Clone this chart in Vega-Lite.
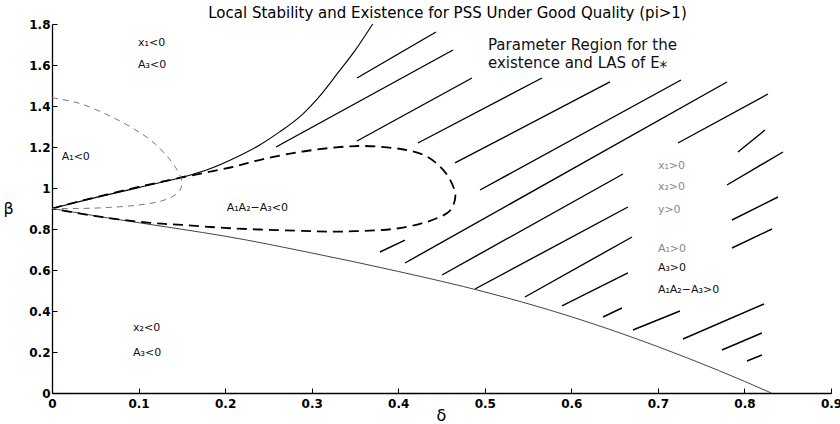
{
  "$schema": "https://vega.github.io/schema/vega-lite/v6.json",
  "width": 779,
  "height": 369,
  "autosize": {"type": "none"},
  "padding": {"left": 52, "top": 24, "right": 9, "bottom": 31},
  "background": "white",
  "config": {
    "view": {"stroke": null},
    "font": "DejaVu Sans",
    "axis": {
      "grid": false,
      "domainColor": "black",
      "domainWidth": 1.3,
      "tickColor": "black",
      "tickWidth": 1,
      "tickSize": -5,
      "labelFont": "DejaVu Sans",
      "labelFontSize": 12,
      "labelFontWeight": "bold",
      "labelColor": "black",
      "labelFlush": false,
      "labelOverlap": false,
      "titleFont": "DejaVu Sans",
      "titleFontSize": 16,
      "titleFontWeight": "normal",
      "titleColor": "black"
    }
  },
  "title": {
    "text": "Local Stability and Existence for PSS Under Good Quality (pi>1)",
    "font": "DejaVu Sans",
    "fontSize": 15,
    "fontWeight": "normal",
    "color": "black",
    "anchor": "middle",
    "frame": "group",
    "offset": 4,
    "dx": 6,
    "dy": 7
  },
  "datasets": {
    "curves": [
      {"curve": "upper", "i": 0, "d": 0, "b": 0.9},
      {"curve": "upper", "i": 1, "d": 0.05, "b": 0.953},
      {"curve": "upper", "i": 2, "d": 0.1, "b": 1.002},
      {"curve": "upper", "i": 3, "d": 0.15, "b": 1.052},
      {"curve": "upper", "i": 4, "d": 0.18, "b": 1.09},
      {"curve": "upper", "i": 5, "d": 0.213, "b": 1.15},
      {"curve": "upper", "i": 6, "d": 0.24, "b": 1.21},
      {"curve": "upper", "i": 7, "d": 0.2634, "b": 1.275},
      {"curve": "upper", "i": 8, "d": 0.29, "b": 1.362},
      {"curve": "upper", "i": 9, "d": 0.31, "b": 1.452},
      {"curve": "upper", "i": 10, "d": 0.33, "b": 1.56},
      {"curve": "upper", "i": 11, "d": 0.35, "b": 1.67},
      {"curve": "upper", "i": 12, "d": 0.3705, "b": 1.8},
      {"curve": "lower", "i": 0, "d": 0, "b": 0.9},
      {"curve": "lower", "i": 1, "d": 0.063, "b": 0.855},
      {"curve": "lower", "i": 2, "d": 0.148, "b": 0.8},
      {"curve": "lower", "i": 3, "d": 0.2, "b": 0.765},
      {"curve": "lower", "i": 4, "d": 0.3, "b": 0.683},
      {"curve": "lower", "i": 5, "d": 0.4, "b": 0.593},
      {"curve": "lower", "i": 6, "d": 0.5, "b": 0.493},
      {"curve": "lower", "i": 7, "d": 0.6, "b": 0.372},
      {"curve": "lower", "i": 8, "d": 0.7, "b": 0.226},
      {"curve": "lower", "i": 9, "d": 0.77, "b": 0.11},
      {"curve": "lower", "i": 10, "d": 0.8, "b": 0.057},
      {"curve": "lower", "i": 11, "d": 0.831, "b": 0},
      {"curve": "loop", "i": 0, "d": 0, "b": 0.9},
      {"curve": "loop", "i": 1, "d": 0.03, "b": 0.933},
      {"curve": "loop", "i": 2, "d": 0.063, "b": 0.968},
      {"curve": "loop", "i": 3, "d": 0.1, "b": 1.005},
      {"curve": "loop", "i": 4, "d": 0.148, "b": 1.05},
      {"curve": "loop", "i": 5, "d": 0.206, "b": 1.1},
      {"curve": "loop", "i": 6, "d": 0.243, "b": 1.14},
      {"curve": "loop", "i": 7, "d": 0.29, "b": 1.178},
      {"curve": "loop", "i": 8, "d": 0.333, "b": 1.2},
      {"curve": "loop", "i": 9, "d": 0.36, "b": 1.205},
      {"curve": "loop", "i": 10, "d": 0.387, "b": 1.198},
      {"curve": "loop", "i": 11, "d": 0.41, "b": 1.185},
      {"curve": "loop", "i": 12, "d": 0.43, "b": 1.16},
      {"curve": "loop", "i": 13, "d": 0.447, "b": 1.11},
      {"curve": "loop", "i": 14, "d": 0.46, "b": 1.04},
      {"curve": "loop", "i": 15, "d": 0.466, "b": 0.96},
      {"curve": "loop", "i": 16, "d": 0.46, "b": 0.89},
      {"curve": "loop", "i": 17, "d": 0.446, "b": 0.855},
      {"curve": "loop", "i": 18, "d": 0.425, "b": 0.825},
      {"curve": "loop", "i": 19, "d": 0.394, "b": 0.8},
      {"curve": "loop", "i": 20, "d": 0.36, "b": 0.791},
      {"curve": "loop", "i": 21, "d": 0.325, "b": 0.787},
      {"curve": "loop", "i": 22, "d": 0.28, "b": 0.792},
      {"curve": "loop", "i": 23, "d": 0.21, "b": 0.803},
      {"curve": "loop", "i": 24, "d": 0.15, "b": 0.82},
      {"curve": "loop", "i": 25, "d": 0.113, "b": 0.83},
      {"curve": "loop", "i": 26, "d": 0.055, "b": 0.86},
      {"curve": "loop", "i": 27, "d": 0, "b": 0.9},
      {"curve": "a1", "i": 0, "d": 0, "b": 1.44},
      {"curve": "a1", "i": 1, "d": 0.03, "b": 1.415},
      {"curve": "a1", "i": 2, "d": 0.06, "b": 1.365},
      {"curve": "a1", "i": 3, "d": 0.09, "b": 1.3},
      {"curve": "a1", "i": 4, "d": 0.115, "b": 1.23},
      {"curve": "a1", "i": 5, "d": 0.133, "b": 1.155},
      {"curve": "a1", "i": 6, "d": 0.145, "b": 1.085},
      {"curve": "a1", "i": 7, "d": 0.15, "b": 1.03},
      {"curve": "a1", "i": 8, "d": 0.148, "b": 0.99},
      {"curve": "a1", "i": 9, "d": 0.14, "b": 0.96},
      {"curve": "a1", "i": 10, "d": 0.125, "b": 0.935},
      {"curve": "a1", "i": 11, "d": 0.1, "b": 0.917},
      {"curve": "a1", "i": 12, "d": 0.065, "b": 0.905},
      {"curve": "a1", "i": 13, "d": 0.03, "b": 0.9},
      {"curve": "a1", "i": 14, "d": 0, "b": 0.9}
    ],
    "hatch": [
      {"d": 0.3524, "b": 1.5366, "d2": 0.4436, "b2": 1.761},
      {"d": 0.2588, "b": 1.2, "d2": 0.4633, "b2": 1.6732},
      {"d": 0.3524, "b": 1.2293, "d2": 0.4852, "b2": 1.5366},
      {"d": 0.4228, "b": 1.2195, "d2": 0.5661, "b2": 1.5366},
      {"d": 0.4656, "b": 1.122, "d2": 0.6446, "b2": 1.5171},
      {"d": 0.4945, "b": 0.9902, "d2": 0.7267, "b2": 1.5268},
      {"d": 0.4078, "b": 0.6341, "d2": 0.7798, "b2": 1.5171},
      {"d": 0.3789, "b": 0.6878, "d2": 0.4078, "b2": 0.7463},
      {"d": 0.4506, "b": 0.5756, "d2": 0.6597, "b2": 1.0683},
      {"d": 0.4887, "b": 0.5073, "d2": 0.6654, "b2": 0.9073},
      {"d": 0.5464, "b": 0.4683, "d2": 0.6701, "b2": 0.761},
      {"d": 0.5892, "b": 0.4244, "d2": 0.6654, "b2": 0.5854},
      {"d": 0.6366, "b": 0.3707, "d2": 0.6585, "b2": 0.4146},
      {"d": 0.6712, "b": 0.3073, "d2": 0.7255, "b2": 0.4},
      {"d": 0.729, "b": 0.2634, "d2": 0.8226, "b2": 0.4341},
      {"d": 0.774, "b": 0.2098, "d2": 0.8202, "b2": 0.2927},
      {"d": 0.8029, "b": 0.1561, "d2": 0.8202, "b2": 0.1854},
      {"d": 0.7856, "b": 0.7073, "d2": 0.8318, "b2": 0.8},
      {"d": 0.7232, "b": 1.2195, "d2": 0.8272, "b2": 1.4585},
      {"d": 0.7925, "b": 1.1756, "d2": 0.8237, "b2": 1.2829},
      {"d": 0.7798, "b": 1.0146, "d2": 0.8445, "b2": 1.1756},
      {"d": 0.7856, "b": 0.8439, "d2": 0.8387, "b2": 0.9561}
    ],
    "labelsDark": [
      {"d": 0.0994, "b": 1.707, "text": "x₁<0"},
      {"d": 0.0994, "b": 1.6, "text": "A₃<0"},
      {"d": 0.0112, "b": 1.151, "text": "A₁<0"},
      {"d": 0.2018, "b": 0.902, "text": "A₁A₂−A₃<0"},
      {"d": 0.0936, "b": 0.317, "text": "x₂<0"},
      {"d": 0.0936, "b": 0.195, "text": "A₃<0"},
      {"d": 0.7, "b": 0.61, "text": "A₃>0"},
      {"d": 0.7, "b": 0.502, "text": "A₁A₂−A₃>0"}
    ],
    "labelsFaint": [
      {"d": 0.7, "b": 1.107, "text": "x₁>0"},
      {"d": 0.7, "b": 1.005, "text": "x₂>0"},
      {"d": 0.7, "b": 0.893, "text": "y>0"},
      {"d": 0.7, "b": 0.702, "text": "A₁>0"}
    ],
    "notes": [
      {"d": 0.5037, "b": 1.698, "text": "Parameter Region for the"},
      {"d": 0.5037, "b": 1.61, "text": "existence and LAS of E⁎"}
    ],
    "boundary": [
      {"d": 0.863}
    ]
  },
  "encoding": {
    "x": {
      "field": "d",
      "type": "quantitative",
      "scale": {"domain": [0, 0.9], "nice": false, "zero": false},
      "axis": {
        "values": [0, 0.1, 0.2, 0.3, 0.4, 0.5, 0.6, 0.7, 0.8, 0.9],
        "format": "~g",
        "labelPadding": 10,
        "title": "δ",
        "titleX": 389,
        "titleY": 22,
        "titleAlign": "center",
        "titleBaseline": "middle"
      }
    },
    "y": {
      "field": "b",
      "type": "quantitative",
      "scale": {"domain": [0, 1.8], "nice": false},
      "axis": {
        "values": [0, 0.2, 0.4, 0.6, 0.8, 1, 1.2, 1.4, 1.6, 1.8],
        "format": "~g",
        "labelPadding": 7,
        "title": "β",
        "titleAngle": 0,
        "titleX": -44,
        "titleY": 184,
        "titleAlign": "center",
        "titleBaseline": "middle"
      }
    }
  },
  "layer": [
    {
      "data": {"name": "hatch"},
      "mark": {"type": "rule", "color": "black", "strokeWidth": 1.4},
      "encoding": {
        "x2": {"field": "d2"},
        "y2": {"field": "b2"}
      }
    },
    {
      "data": {"name": "curves"},
      "transform": [{"filter": "datum.curve === 'upper'"}],
      "mark": {"type": "line", "color": "black", "strokeWidth": 1.1, "interpolate": "monotone"},
      "encoding": {"order": {"field": "i"}}
    },
    {
      "data": {"name": "curves"},
      "transform": [{"filter": "datum.curve === 'lower'"}],
      "mark": {"type": "line", "color": "#444", "strokeWidth": 1, "interpolate": "monotone"},
      "encoding": {"order": {"field": "i"}}
    },
    {
      "data": {"name": "curves"},
      "transform": [{"filter": "datum.curve === 'loop'"}],
      "mark": {"type": "line", "color": "black", "strokeWidth": 1.8, "strokeDash": [10, 6], "interpolate": "catmull-rom"},
      "encoding": {"order": {"field": "i"}}
    },
    {
      "data": {"name": "curves"},
      "transform": [{"filter": "datum.curve === 'a1'"}],
      "mark": {"type": "line", "color": "#777", "strokeWidth": 1, "strokeDash": [6, 5], "interpolate": "catmull-rom"},
      "encoding": {"order": {"field": "i"}}
    },
    {
      "data": {"name": "boundary"},
      "mark": {"type": "rule", "color": "#444", "strokeWidth": 1.5, "strokeDash": [6, 3]},
      "encoding": {
        "y": {"datum": 0, "type": "quantitative"},
        "y2": {"datum": 1.8}
      }
    },
    {
      "data": {"name": "labelsDark"},
      "mark": {"type": "text", "align": "left", "baseline": "middle", "font": "DejaVu Sans", "fontSize": 11, "color": "#111"},
      "encoding": {"text": {"field": "text"}}
    },
    {
      "data": {"name": "labelsFaint"},
      "mark": {"type": "text", "align": "left", "baseline": "middle", "font": "DejaVu Sans", "fontSize": 11, "color": "#888"},
      "encoding": {"text": {"field": "text"}}
    },
    {
      "data": {"name": "notes"},
      "mark": {"type": "text", "align": "left", "baseline": "middle", "font": "DejaVu Sans", "fontSize": 15, "color": "#111"},
      "encoding": {"text": {"field": "text"}}
    }
  ]
}
